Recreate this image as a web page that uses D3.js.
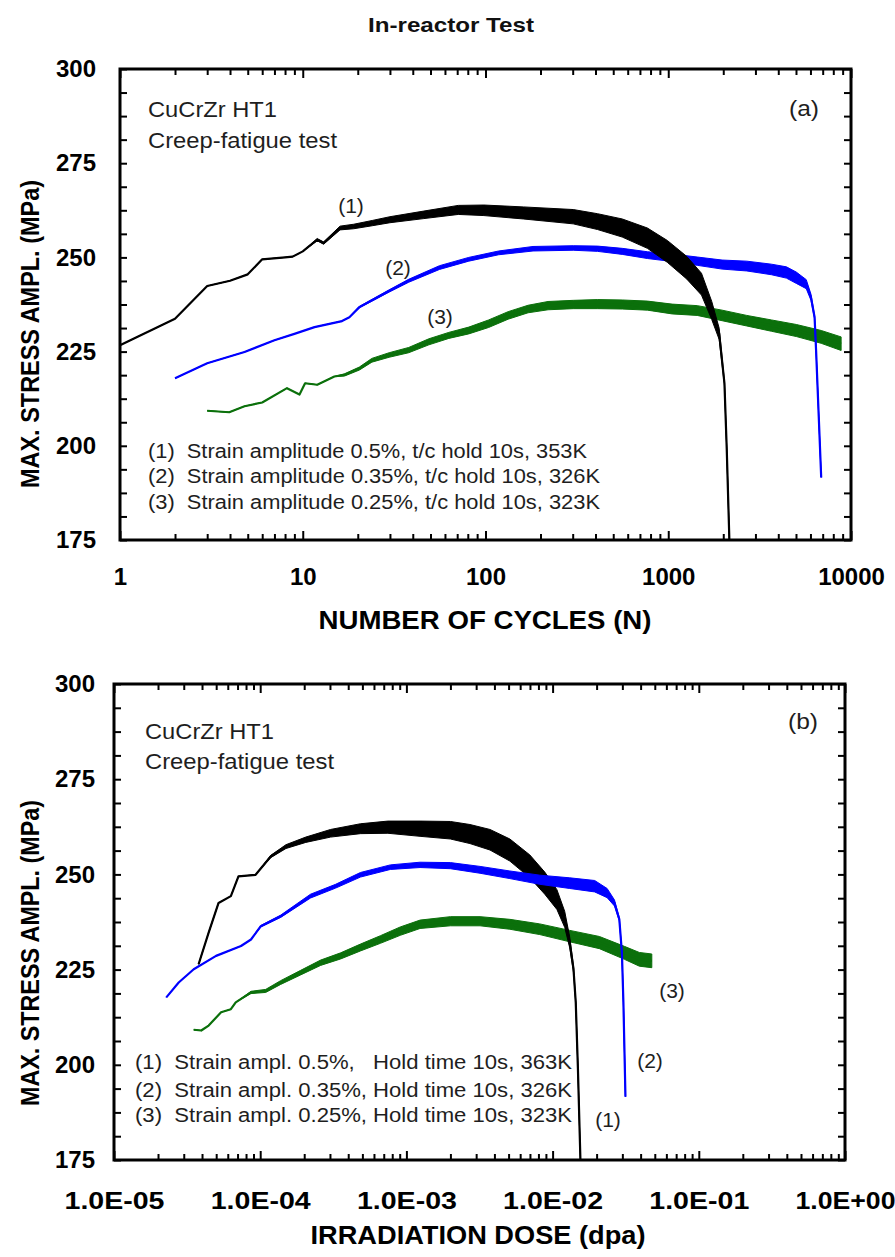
<!DOCTYPE html>
<html><head><meta charset="utf-8">
<script src="https://cdn.jsdelivr.net/npm/d3@7"></script>
<style>html,body{margin:0;padding:0;background:#fff;} svg{display:block;}</style>
</head><body>
<script>
// ---------- DATA ----------
// Panel (a): stress vs number of cycles
const cyclesA1 = [1,2,3,4,5,6,8,8.8,10,12,13,16,19,24,30,46,71,98,161,302,410,560,769,988,1260,1520,1730,1900,2030,2090,2160];
const stressA1 = [226.7,233.7,242.4,243.8,245.5,249.5,250.0,250.2,251.6,254.7,253.8,257.8,258.2,259.1,260.0,261.3,262.6,262.5,261.8,260.8,259.5,257.8,255.1,251.6,247.3,242.9,235.9,229.7,216.6,199,175];
const scatterA1 = [0,0,0,0,0,0,0,0,0,0.3,0.3,0.5,0.6,0.7,0.8,1.0,1.2,1.4,1.6,1.9,2.1,2.4,2.7,2.9,3.0,2.9,2.4,1.5,0.5,0,0];

const cyclesA2 = [2,3,4.8,7,9,11.6,16.4,18,20.4,29.7,38,56,81,118,182,302,410,560,769,1050,1440,1970,2690,3670,4430,5020,5690,6040,6320,6440,6660,6870];
const stressA2 = [217.9,221.9,224.9,228.0,229.7,231.5,233.1,234.1,236.8,241.1,243.8,247.3,249.5,251.2,252.3,252.5,252.3,251.6,250.6,249.9,249.0,248.1,247.7,246.8,246.0,244.6,242.9,239.4,234.1,225.4,207.8,191.6];
const scatterA2 = [0,0,0,0,0,0,0,0,0.2,0.3,0.4,0.5,0.5,0.5,0.6,0.6,0.7,0.8,0.9,1.0,1.1,1.2,1.3,1.4,1.5,1.5,1.2,0.8,0.4,0,0,0];

const cyclesA3 = [3,3.96,4.8,6,8.2,9.6,10.3,12,14.9,16.9,20.4,23.9,29.7,38,49,63,81,104,133,171,220,302,411,560,769,1050,1440,1970,2690,3670,5020,6870,8830];
const stressA3 = [209.3,208.9,210.5,211.5,215.3,213.6,216.6,216.2,218.4,218.8,220.5,222.7,224.1,225.4,227.6,229.3,230.6,232.4,234.6,236.3,237.2,237.5,237.6,237.5,237.2,236.3,235.9,234.6,233.2,231.9,230.6,228.9,227.1];
const scatterA3 = [0,0,0,0,0,0,0,0,0,0.3,0.4,0.5,0.6,0.7,0.8,0.8,0.9,1.0,1.0,1.0,1.1,1.1,1.2,1.2,1.2,1.3,1.3,1.4,1.4,1.5,1.6,1.7,1.8];

// Panel (b): stress vs irradiation dose (dpa)
const doseB1 = [3.79e-5,4.44e-5,5.19e-5,6.3e-5,7.1e-5,9.3e-5,1.18e-4,1.5e-4,2.05e-4,3.03e-4,4.85e-4,7.47e-4,1.24e-3,2.0e-3,2.72e-3,3.73e-3,5.1e-3,6.99e-3,8.84e-3,1.07e-2,1.21e-2,1.31e-2,1.39e-2,1.44e-2,1.49e-2,1.55e-2];
const stressB1 = [226.4,234.7,242.5,244.3,249.5,249.9,254.7,257.3,259.1,260.8,262.0,262.4,262.0,261.6,260.6,259.1,256.4,252.1,247.7,243.4,238.2,232.1,225.1,216.4,199.0,175];
const scatterB1 = [0,0,0,0,0,0,0.3,0.5,0.7,1.0,1.3,1.6,2.0,2.3,2.5,2.7,2.9,3.0,2.9,2.6,2.1,1.4,0.8,0.3,0,0];

const doseB2 = [2.28e-5,2.77e-5,3.51e-5,4.99e-5,7.39e-5,8.65e-5,1.01e-4,1.38e-4,2.21e-4,3.28e-4,4.85e-4,7.77e-4,1.24e-3,2.0e-3,3.19e-3,5.1e-3,8.17e-3,1.31e-2,1.94e-2,2.36e-2,2.65e-2,2.86e-2,2.98e-2,3.05e-2,3.15e-2];
const stressB2 = [217.7,221.6,225.1,228.6,231.2,232.9,236.4,239.0,244.3,246.9,249.9,251.9,252.5,252.3,251.2,249.9,248.6,247.7,246.9,245.1,242.5,238.2,229.4,216.4,191.6];
const scatterB2 = [0,0,0,0,0,0,0.2,0.3,0.5,0.5,0.6,0.6,0.7,0.8,0.9,1.0,1.2,1.4,1.5,1.2,0.8,0.4,0,0,0];

const doseB3 = [3.51e-5,3.95e-5,4.44e-5,5.4e-5,6.3e-5,6.8e-5,8.65e-5,1.09e-4,1.38e-4,1.89e-4,2.59e-4,3.55e-4,4.85e-4,6.64e-4,9.08e-4,1.24e-3,2.0e-3,3.19e-3,5.1e-3,8.17e-3,1.31e-2,2.09e-2,3.1e-2,3.92e-2,4.77e-2];
const stressB3 = [209.2,209.0,210.3,213.8,214.6,216.4,219.0,219.4,221.6,224.2,226.8,228.6,230.8,232.9,235.1,236.9,237.7,237.7,236.9,235.6,233.8,232.1,229.4,227.7,227.3];
const scatterB3 = [0,0,0,0,0,0,0.3,0.4,0.5,0.6,0.7,0.8,0.9,1.0,1.1,1.1,1.2,1.2,1.3,1.4,1.5,1.6,1.7,1.8,1.8];

const yDomain = [175, 300];
const yLabelTicks = [175, 200, 225, 250, 275, 300];
const xDomainA = [1, 10000];
const xDomainB = [1e-5, 1];

const titleText = "In-reactor Test";
const yTitle = "MAX. STRESS AMPL. (MPa)";
const xTitleA = "NUMBER OF CYCLES (N)";
const xTitleB = "IRRADIATION DOSE (dpa)";
const materialText = "CuCrZr HT1";
const testText = "Creep-fatigue test";
const legendA = ["(1)  Strain amplitude 0.5%, t/c hold 10s, 353K",
                 "(2)  Strain amplitude 0.35%, t/c hold 10s, 326K",
                 "(3)  Strain amplitude 0.25%, t/c hold 10s, 323K"];
const legendB = ["(1)  Strain ampl. 0.5%,   Hold time 10s, 363K",
                 "(2)  Strain ampl. 0.35%, Hold time 10s, 326K",
                 "(3)  Strain ampl. 0.25%, Hold time 10s, 323K"];
const curveLabels = ["(1)", "(2)", "(3)"];

// ---------- DRAWING ----------
const W = 895, H = 1257;
const FONT = "'Liberation Sans', Arial, Helvetica, sans-serif";
const GREEN = "#0b700b", BLUE = "#0000ff", BLACK = "#000000";

const svg = d3.select("body").append("svg").attr("width", W).attr("height", H)
  .style("font-family", FONT);

svg.append("text").attr("x", 451).attr("y", 32).attr("text-anchor", "middle")
  .attr("font-size", 21).attr("font-weight", "bold").attr("fill", "#111")
  .attr("textLength", 166).attr("lengthAdjust", "spacingAndGlyphs").text(titleText);

function fmtDose(d) {
  const e = Math.round(Math.log10(d));
  return "1.0E" + (e < 0 ? "-" : "+") + String(Math.abs(e)).padStart(2, "0");
}

function panel(cfg) {
  const g = svg.append("g");
  const x = d3.scaleLog().domain(cfg.xDomain).range([cfg.left, cfg.right]);
  const y = d3.scaleLinear().domain(yDomain).range([cfg.bottom, cfg.top]);
  const id = "clip" + cfg.name;
  svg.append("clipPath").attr("id", id).append("rect")
    .attr("x", cfg.left).attr("y", cfg.top).attr("width", cfg.right - cfg.left).attr("height", cfg.bottom - cfg.top);

  const plot = g.append("g").attr("clip-path", `url(#${id})`);
  cfg.series.forEach(s => {
    const pts = s.x.map((v, i) => ({ x: v, y: s.y[i], n: s.n[i] }));
    const area = d3.area().x(d => x(d.x)).y0(d => y(d.y - d.n)).y1(d => y(d.y + d.n));
    const line = d3.line().x(d => x(d.x)).y(d => y(d.y));
    plot.append("path").attr("d", area(pts)).attr("fill", s.color).attr("stroke", s.color).attr("stroke-width", 1);
    plot.append("path").attr("d", line(pts)).attr("fill", "none").attr("stroke", s.color)
      .attr("stroke-width", 2.2).attr("stroke-linejoin", "round");
  });

  const allX = x.ticks();
  const majors = allX.filter(v => Math.abs(Math.log10(v) - Math.round(Math.log10(v))) < 1e-9);
  const minors = allX.filter(v => !majors.includes(v));
  const yTicks = d3.range(yDomain[0], yDomain[1] + 0.001, 25 / 4);

  const style = sel => {
    sel.select(".domain").remove();
    sel.selectAll("line").attr("stroke", "#000").attr("stroke-width", 2);
  };
  g.append("g").attr("transform", `translate(0,${cfg.bottom})`)
    .call(d3.axisBottom(x).tickValues(majors).tickSizeInner(-9).tickSizeOuter(0).tickPadding(cfg.xPad).tickFormat(cfg.fmt))
    .call(style)
    .call(s => s.selectAll("text").attr("font-size", 24).attr("font-weight", "bold").attr("fill", "#000")
      .attr("font-family", FONT).each(function () { if (cfg.xLabelLen) d3.select(this).attr("textLength", cfg.xLabelLen).attr("lengthAdjust", "spacingAndGlyphs"); }));
  g.append("g").attr("transform", `translate(0,${cfg.bottom})`)
    .call(d3.axisBottom(x).tickValues(minors).tickSizeInner(-6).tickSizeOuter(0).tickFormat(""))
    .call(style);
  g.append("g").attr("transform", `translate(0,${cfg.top})`)
    .call(d3.axisTop(x).tickValues(majors).tickSizeInner(-9).tickSizeOuter(0).tickFormat(""))
    .call(style);
  g.append("g").attr("transform", `translate(0,${cfg.top})`)
    .call(d3.axisTop(x).tickValues(minors).tickSizeInner(-6).tickSizeOuter(0).tickFormat(""))
    .call(style);
  g.append("g").attr("transform", `translate(${cfg.left},0)`)
    .call(d3.axisLeft(y).tickValues(yTicks).tickSizeInner(-7).tickSizeOuter(0).tickPadding(cfg.yPad)
      .tickFormat(v => yLabelTicks.includes(v) ? String(v) : ""))
    .call(style)
    .call(s => s.selectAll("text").attr("font-size", 24).attr("font-weight", "bold").attr("fill", "#000").attr("font-family", FONT));
  g.append("g").attr("transform", `translate(${cfg.right},0)`)
    .call(d3.axisRight(y).tickValues(yTicks).tickSizeInner(-7).tickSizeOuter(0).tickFormat(""))
    .call(style);

  g.append("rect").attr("x", cfg.left).attr("y", cfg.top).attr("width", cfg.right - cfg.left)
    .attr("height", cfg.bottom - cfg.top).attr("fill", "none").attr("stroke", "#000").attr("stroke-width", 3);

  g.append("text").attr("x", cfg.xTitleX).attr("y", cfg.xTitleY).attr("text-anchor", "middle")
    .attr("font-size", 25).attr("font-weight", "bold").attr("textLength", cfg.xTitleLen)
    .attr("lengthAdjust", "spacingAndGlyphs").text(cfg.xTitle);
  g.append("text").attr("transform", `translate(${cfg.yTitleX},${cfg.yTitleY}) rotate(-90)`)
    .attr("text-anchor", "middle").attr("font-size", 25).attr("font-weight", "bold")
    .attr("textLength", cfg.yTitleLen).attr("lengthAdjust", "spacingAndGlyphs").text(yTitle);

  const ann = (t, xx, yy, len, size, anchor) => {
    const tx = g.append("text").attr("x", xx).attr("y", yy).attr("font-size", size)
      .attr("fill", "#1e1e1e").attr("text-anchor", anchor || "start")
      .style("white-space", "pre").text(t);
    if (len) tx.attr("textLength", len).attr("lengthAdjust", "spacingAndGlyphs");
  };
  ann(materialText, cfg.textX, cfg.matY, 129, 22);
  ann(testText, cfg.textX, cfg.testY, 189, 22);
  ann(cfg.panelTag, cfg.tagX, cfg.tagY, 30, 22);
  cfg.legend.forEach((t, i) => ann(t, cfg.legX, cfg.legY[i], cfg.legLen[i], 20));
  curveLabels.forEach((t, i) => ann(t, cfg.labelPos[i][0], cfg.labelPos[i][1], null, 21, "middle"));
}

panel({
  name: "A", xDomain: xDomainA, left: 120, right: 851, top: 69, bottom: 540,
  series: [
    { x: cyclesA3, y: stressA3, n: scatterA3, color: GREEN },
    { x: cyclesA2, y: stressA2, n: scatterA2, color: BLUE },
    { x: cyclesA1, y: stressA1, n: scatterA1, color: BLACK }
  ],
  fmt: d3.format("d"), xPad: 28, yPad: 24, xLabelLen: null,
  xTitle: xTitleA, xTitleX: 485, xTitleY: 629, xTitleLen: 333,
  yTitleX: 39, yTitleY: 334, yTitleLen: 308,
  textX: 148, matY: 117, testY: 148, panelTag: "(a)", tagX: 789, tagY: 116,
  legend: legendA, legX: 148, legY: [458, 483, 509], legLen: [439, 452, 452],
  labelPos: [[351, 213], [398, 275], [440, 324]]
});

panel({
  name: "B", xDomain: xDomainB, left: 114, right: 845, top: 684, bottom: 1160,
  series: [
    { x: doseB3, y: stressB3, n: scatterB3, color: GREEN },
    { x: doseB1, y: stressB1, n: scatterB1, color: BLACK },
    { x: doseB2, y: stressB2, n: scatterB2, color: BLUE }
  ],
  fmt: fmtDose, xPad: 32, yPad: 19, xLabelLen: 100,
  xTitle: xTitleB, xTitleX: 478, xTitleY: 1244, xTitleLen: 335,
  yTitleX: 39, yTitleY: 953, yTitleLen: 306,
  textX: 145, matY: 739, testY: 769, panelTag: "(b)", tagX: 788, tagY: 729,
  legend: legendB, legX: 135, legY: [1069, 1097, 1122], legLen: [437, 437, 437],
  labelPos: [[608, 1127], [650, 1068], [672, 998]]
});
</script>
</body></html>
